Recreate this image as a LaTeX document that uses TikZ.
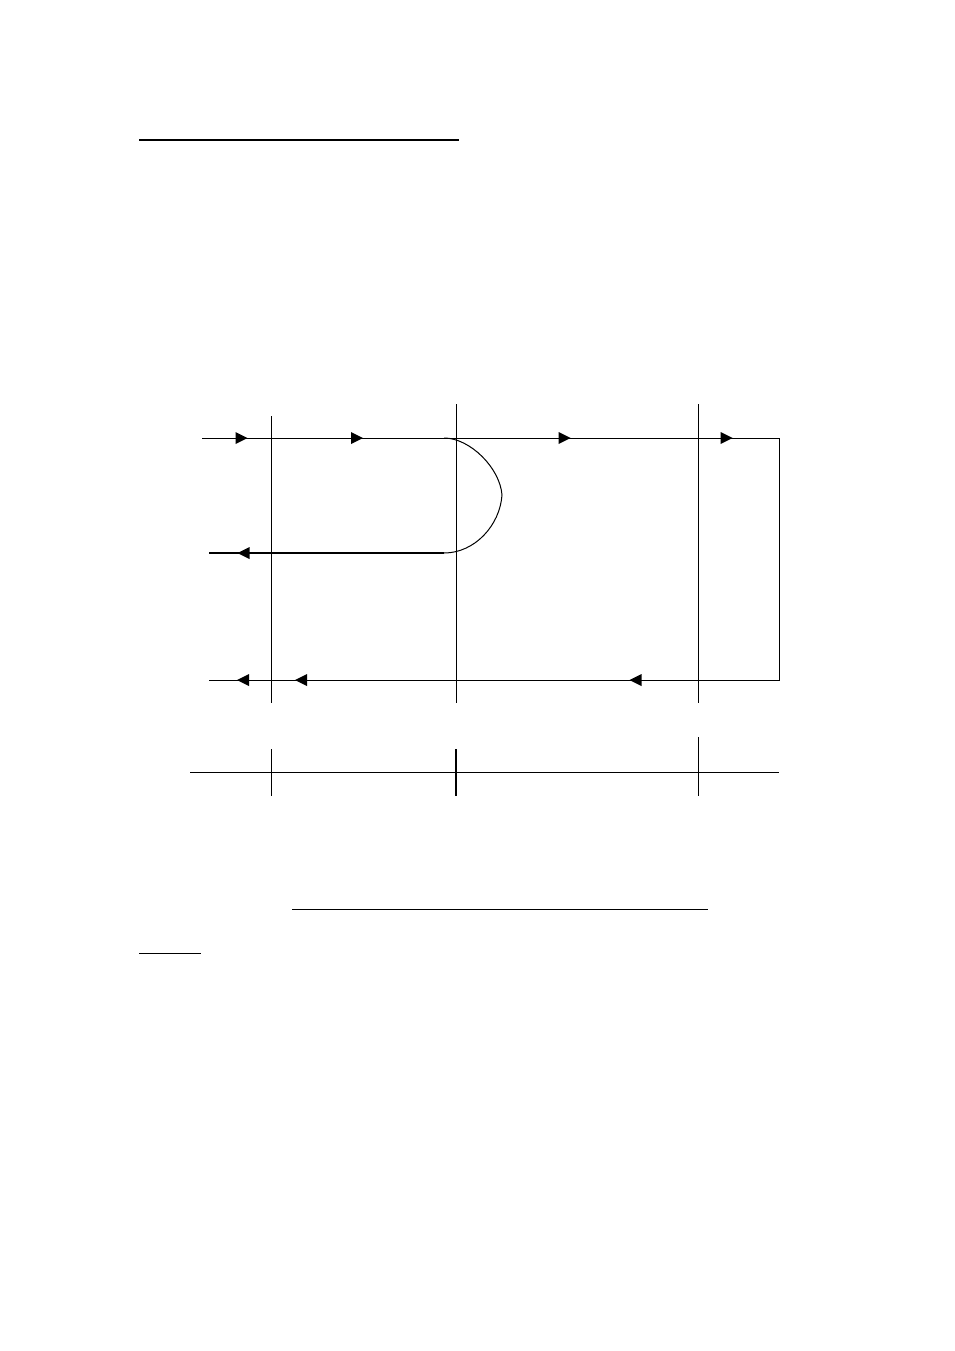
\documentclass[tikz,border=0pt]{standalone}
\begin{document}
\begin{tikzpicture}[x=1pt,y=-1pt,
  thin line/.style={line width=1pt},
  thick line/.style={line width=2pt},
  rtri/.pic={\fill (-6pt,-6pt) -- (6pt,0pt) -- (-6pt,6pt) -- cycle;},
  ltri/.pic={\fill (6pt,-6pt) -- (-6pt,0pt) -- (6pt,6pt) -- cycle;}]
\useasboundingbox (0,0) rectangle (954,1351);
% coordinates
\coordinate (tl) at (139,140); \coordinate (tr) at (459,140);
\coordinate (inL) at (202,438); \coordinate (inR) at (779,438);
\coordinate (outR) at (779,680); \coordinate (outL) at (209,680);
\coordinate (retL) at (209,553); \coordinate (retR) at (444,553);
\coordinate (cs) at (444,438); \coordinate (cm) at (502,495);
\coordinate (axL) at (190,772); \coordinate (axR) at (779,772);
\coordinate (ulA) at (292,909); \coordinate (ulB) at (708,909);
\coordinate (ulC) at (139,953); \coordinate (ulD) at (201,953);
% top underline
\draw[thick line] (tl) -- (tr);
% vertical boundaries
\draw[thin line] (271,416) -- (271,703);
\draw[thin line] (456,404) -- (456,703);
\draw[thin line] (698,404) -- (698,703);
% forward wave and return
\draw[thin line] (inL) -- (inR) -- (outR) -- (outL);
% reflected wave
\draw[thin line] (cs) .. controls (470,438) and (500,468) .. (cm)
  .. controls (500,525) and (475,553) .. (retR);
\draw[thick line] (retR) -- (retL);
% arrowheads
\pic at (241.5,438) {rtri};
\pic at (357,438) {rtri};
\pic at (564.5,438) {rtri};
\pic at (726.5,438) {rtri};
\pic at (243.5,553) {ltri};
\pic at (243,680) {ltri};
\pic at (301,680) {ltri};
\pic at (635.5,680) {ltri};
% axis
\draw[thin line] (axL) -- (axR);
\draw[thin line] (271,749) -- (271,796);
\draw[thick line] (456,749) -- (456,796);
\draw[thin line] (698,737) -- (698,796);
% underlines
\draw[thin line] (ulA) -- (ulB);
\draw[thin line] (ulC) -- (ulD);
\end{tikzpicture}
\end{document}
